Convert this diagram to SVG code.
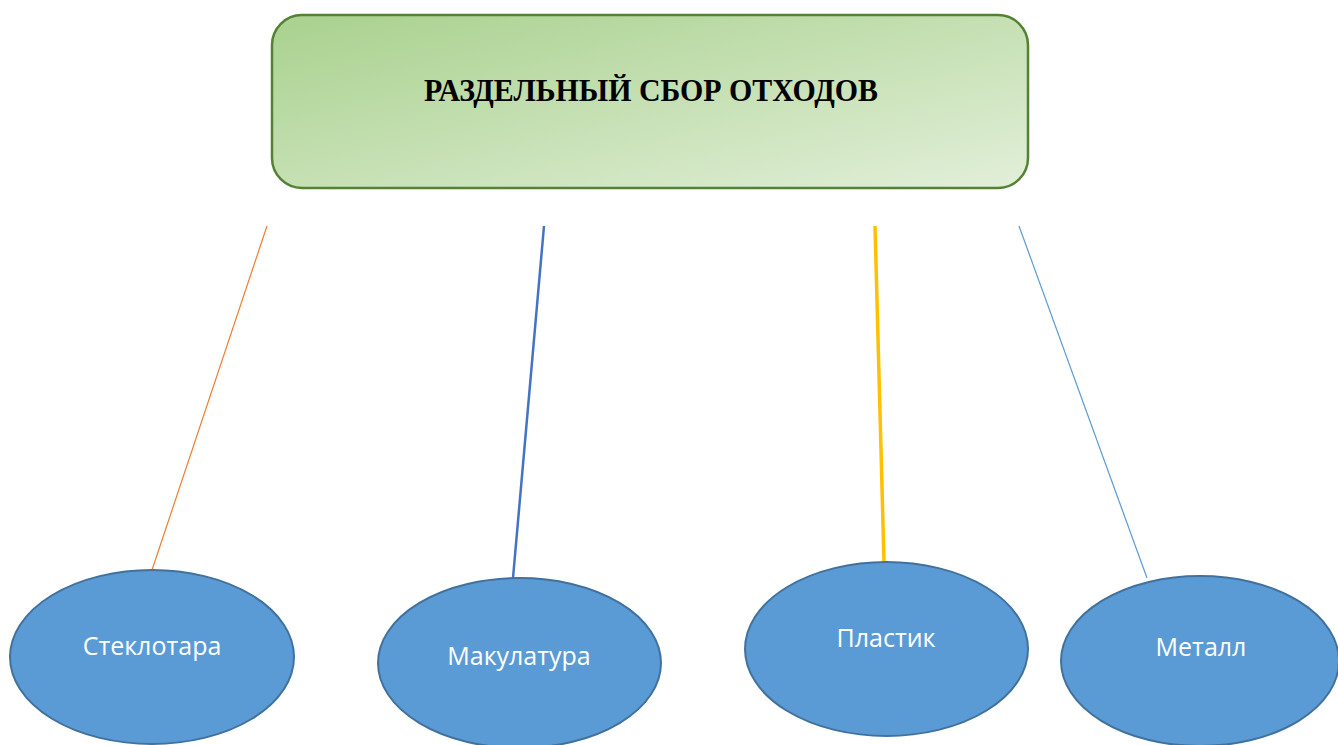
<svg xmlns="http://www.w3.org/2000/svg" width="1338" height="745" viewBox="0 0 1338 745">
<defs>
<linearGradient id="g" x1="0" y1="0" x2="1" y2="1">
<stop offset="0" stop-color="#a9d18e"/>
<stop offset="1" stop-color="#e2efd9"/>
</linearGradient>
<style>
.node ellipse{fill:#5b9bd5;stroke:#41719c;stroke-width:2}
.node text{fill:#fff;font-family:"Open Sans","Liberation Sans",sans-serif;font-size:25px;text-anchor:middle}
.title{font-family:"Liberation Serif",serif;font-weight:bold;font-size:31px;text-anchor:middle;fill:#000}
</style>
</defs>
<rect width="1338" height="745" fill="#fff"/>
<g id="connectors" fill="none">
<line x1="267" y1="226" x2="152" y2="570" stroke="#ed7d31" stroke-width="1.2"/>
<line x1="544" y1="226" x2="513" y2="578" stroke="#4472c4" stroke-width="2.5"/>
<line x1="875" y1="226" x2="884" y2="562" stroke="#ffc000" stroke-width="3.5"/>
<line x1="1019" y1="226" x2="1147" y2="578" stroke="#5b9bd5" stroke-width="1.2"/>
</g>
<g id="root">
<rect x="272" y="15" width="756" height="173" rx="30" ry="30" fill="url(#g)" stroke="#548235" stroke-width="2.5"/>
<text class="title" x="651" y="101" textLength="454" lengthAdjust="spacingAndGlyphs">РАЗДЕЛЬНЫЙ СБОР ОТХОДОВ</text>
</g>
<g id="n1" class="node"><ellipse cx="152" cy="657" rx="142" ry="87"/><text x="152" y="655">Стеклотара</text></g>
<g id="n2" class="node"><ellipse cx="519.5" cy="663" rx="141.5" ry="85"/><text x="519" y="665">Макулатура</text></g>
<g id="n3" class="node"><ellipse cx="886.5" cy="649" rx="141.5" ry="87"/><text x="886" y="647">Пластик</text></g>
<g id="n4" class="node"><ellipse cx="1200" cy="661" rx="139" ry="85"/><text x="1201" y="656">Металл</text></g>
</svg>
